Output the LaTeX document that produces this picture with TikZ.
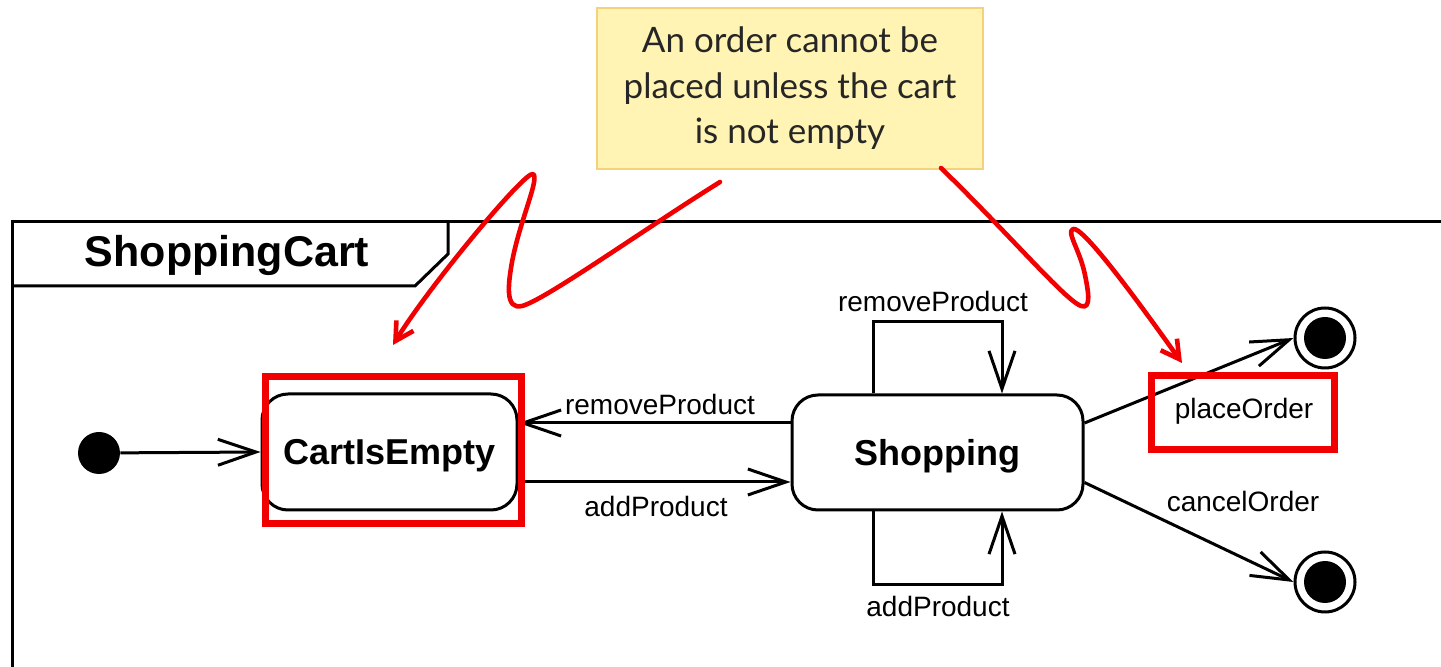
\documentclass[tikz,border=0pt]{standalone}
\usepackage{fontspec}
\setmainfont{Liberation Sans}
\newfontfamily\notefont{Lato}
\usetikzlibrary{arrows.meta,calc}
\definecolor{markred}{HTML}{F00000}
\definecolor{noteside}{HTML}{FFF4B4}
\definecolor{notemid}{HTML}{FFEE8C}
\definecolor{noteedge}{HTML}{F5D27A}
\definecolor{notetext}{HTML}{262626}
\tikzset{
  frameline/.style={line width=1.5pt, line join=miter},
  state/.style={draw, line width=1.5pt, rounded corners=13pt, inner sep=0pt,
                text depth=0pt, font=\bfseries\fontsize{18}{20}\selectfont},
  trans/.style={line width=1.5pt, -{Straight Barb[length=19pt,width=13pt,line join=miter]}},
  lbl/.style={font=\fontsize{14}{16}\selectfont, inner sep=1pt},
  pseudo/.style={circle, fill, inner sep=0pt, minimum size=21pt},
  finalring/.style={circle, draw, line width=1.5pt, fill=white, inner sep=0pt, minimum size=30pt},
  hilite/.style={draw=markred, line width=3.5pt, inner sep=0pt},
  scribble/.style={draw=markred, line width=2.3pt, line cap=round, line join=round,
                   -{Straight Barb[length=9pt,width=10pt]}},
}
\begin{document}
\begin{tikzpicture}[x=0.5pt,y=-0.5pt]
\useasboundingbox (0,0) rectangle (1441,667);

% comment note
\node[draw=noteedge, line width=1pt, left color=noteside, middle color=notemid,
      right color=noteside, minimum width=193pt, minimum height=80.5pt,
      align=center, text=notetext, font=\notefont\fontsize{17.5}{22.75}\selectfont]
  (note) at (790,88.5) {An order cannot be\\placed unless the cart\\is not empty};

% state machine frame with its name tab
\draw[frameline] (1445,222) -- (12,222) -- (12,670);
\draw[frameline] (12,286) -- (415,286) -- (448,254) -- (448,222);
\node[font=\bfseries\fontsize{21.5}{24}\selectfont] (title) at (227,255) {ShoppingCart};

% states
\node[pseudo] (init) at (99,453) {};
\node[state, minimum width=127.5pt, minimum height=58pt] (cie) at (389.5,452) {CartIsEmpty};
\node[state, minimum width=145.5pt, minimum height=57.5pt] (shop) at (937.5,452.5) {Shopping};
\node[finalring] (f1) at (1325,338) {};
\node[pseudo] (f1dot) at (f1) {};
\node[finalring] (f2) at (1325,582) {};
\node[pseudo] (f2dot) at (f2) {};

% transitions
\draw[trans] (init) -- (cie.west);
\draw[trans] ($(shop.west)+(0,-29.5)$) coordinate (rp) -- (rp -| cie.east);
\draw[trans] ($(cie.east)+(0,30)$) coordinate (ap) -- (ap -| shop.west);
\draw[trans] ($(shop.north)+(-64.5,0)$) -- ++(0,-72) -| ($(shop.north)+(64.5,0)$);
\draw[trans] ($(shop.south)+(-64.5,0)$) -- ++(0,73) -| ($(shop.south)+(64.5,0)$);
\draw[trans] ($(shop.east)+(0,-29.5)$) -- (f1.west);
\draw[trans] ($(shop.east)+(0,30)$) -- (f2.west);

% transition labels
\node[lbl] (lrp) at (660,404) {removeProduct};
\node[lbl] (lap) at (656,506) {addProduct};
\node[lbl] (lrploop) at (933,301) {removeProduct};
\node[lbl] (laploop) at (938,606) {addProduct};
\node[lbl] (lpo) at (1244,411) {placeOrder};
\node[lbl] (lco) at (1243,501) {cancelOrder};

% red highlights
\node[hilite, minimum width=128pt, minimum height=73.5pt] (hcie) at (393,450.5) {};
\node[hilite, minimum width=91.5pt, minimum height=37pt] (hpo) at (1242.5,413) {};

% hand-drawn pointers from the note
\coordinate (sA) at (720,182);
\coordinate (eA) at (393,345);
\draw[scribble] (sA) .. controls (640,232) and (545,300) .. (522,306)
  .. controls (505,310) and (508,285) .. (512,262)
  .. controls (520,220) and (540,178) .. (533,174)
  .. controls (525,171) and (430,285) .. (eA);
\coordinate (sB) at (941,168);
\coordinate (eB) at (1182,363);
\draw[scribble] (sB) .. controls (1010,235) and (1065,300) .. (1081,306)
  .. controls (1092,310) and (1088,290) .. (1085,275)
  .. controls (1080,250) and (1066,232) .. (1073,229)
  .. controls (1082,226) and (1130,290) .. (eB);
\end{tikzpicture}
\end{document}
